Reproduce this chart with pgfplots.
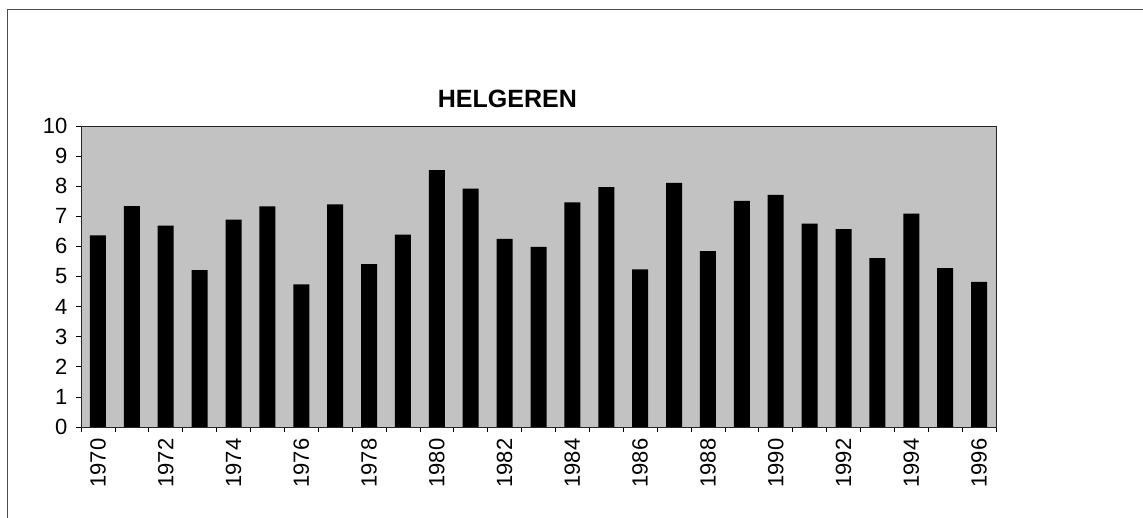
\documentclass[border=0pt]{standalone}
\usepackage{fontspec}
\setmainfont{Liberation Sans}
\usepackage{pgfplots}
\pgfplotsset{compat=1.18}
\begin{document}
\begin{tikzpicture}[x=1pt,y=1pt]
\useasboundingbox (0,0) rectangle (1143,518);
\draw[black!70, line width=0.8pt] (7,0) -- (7,509) -- (1143,509);
\begin{axis}[
  at={(81pt,91pt)}, anchor=south west,
  scale only axis, width=915pt, height=301pt,
  xmin=1969.5, xmax=1996.5, ymin=0, ymax=10,
  ybar, bar width=16pt,
  axis background/.style={fill=black!24},
  axis line style={black!85, line width=0.8pt},
  tick align=outside,
  xtick pos=bottom, ytick pos=left,
  tick style={black, line width=0.6pt},
  major tick length=5pt,
  ytick={0,1,...,10},
  xtick={1969.5,1970.5,...,1996.5},
  xticklabels={},
  extra x ticks={1970,1972,...,1996},
  extra x tick style={major tick length=0pt},
  /pgf/number format/assume math mode=true,
  /pgf/number format/1000 sep={},
  tick label style={font=\fontsize{22}{24}\selectfont},
  xticklabel style={rotate=90, anchor=east, xshift=-8pt, font=\fontsize{22}{24}\selectfont},
  yticklabel style={xshift=-5pt},
  title={HELGEREN},
  title style={at={(0.466,1)}, anchor=base, yshift=12pt, font=\bfseries\fontsize{25}{28}\selectfont},
]
\addplot[fill=black, draw=none] coordinates {
(1970,6.37) (1971,7.34) (1972,6.69) (1973,5.21) (1974,6.89) (1975,7.33)
(1976,4.74) (1977,7.40) (1978,5.41) (1979,6.39) (1980,8.53) (1981,7.92)
(1982,6.25) (1983,5.98) (1984,7.46) (1985,7.97) (1986,5.24) (1987,8.11)
(1988,5.84) (1989,7.51) (1990,7.71) (1991,6.76) (1992,6.57) (1993,5.61)
(1994,7.09) (1995,5.28) (1996,4.82)
};
\end{axis}
\end{tikzpicture}
\end{document}
